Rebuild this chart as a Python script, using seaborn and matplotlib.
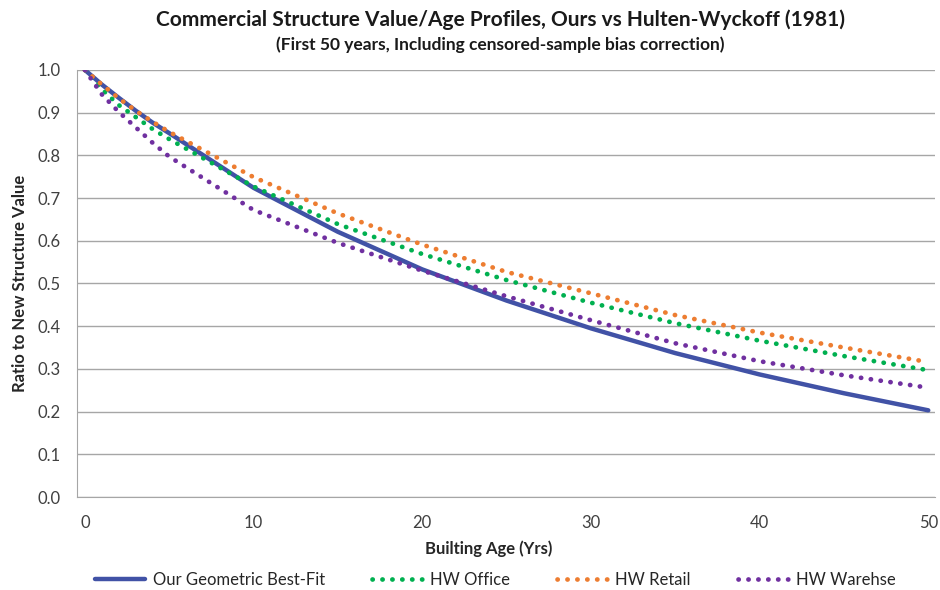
import numpy as np
import pandas as pd
import seaborn as sns
import matplotlib.pyplot as plt
from matplotlib.lines import Line2D

# values
ages = [0, 1, 2, 3, 4, 5, 10, 15, 20, 25, 30, 35, 40, 45, 50]
geometric = [1.0, 0.966, 0.935, 0.905, 0.877, 0.852, 0.724, 0.621, 0.533, 0.460, 0.395, 0.337, 0.287, 0.243, 0.203]
hw_office = [1.0, 0.955, 0.918, 0.890, 0.862, 0.838, 0.727, 0.639, 0.569, 0.508, 0.455, 0.407, 0.366, 0.330, 0.297]
hw_retail = [1.0, 0.966, 0.934, 0.905, 0.879, 0.855, 0.749, 0.664, 0.591, 0.527, 0.477, 0.426, 0.385, 0.350, 0.316]
hw_warehse = [1.0, 0.943, 0.902, 0.866, 0.830, 0.797, 0.672, 0.595, 0.530, 0.470, 0.414, 0.360, 0.318, 0.285, 0.256]

names = ["Our Geometric Best-Fit", "HW Office", "HW Retail", "HW Warehse"]
colors = ["#4152A6", "#00B050", "#ED7D31", "#7030A0"]
xticks = [0, 10, 20, 30, 40, 50]
yticks = [0.0, 0.1, 0.2, 0.3, 0.4, 0.5, 0.6, 0.7, 0.8, 0.9, 1.0]

df = pd.DataFrame({"age": ages * 4,
                   "value": geometric + hw_office + hw_retail + hw_warehse,
                   "series": np.repeat(names, len(ages))})

sns.set_style("white")
plt.rcParams['font.family'] = ['Lato', 'DejaVu Sans']

fig = plt.figure(figsize=(9.4, 5.9), dpi=100)
ax = fig.add_axes([0.0819, 0.1576, 0.9128, 0.7238])

# horizontal grid
for v in yticks:
    ax.axhline(v, color="#A6A6A6", lw=1.0, zorder=0)

dots = (0, (0.05, 2.05))
for i, name in enumerate(names):
    sub = df[df.series == name]
    if i == 0:
        sns.lineplot(data=sub, x="age", y="value", ax=ax, color=colors[i],
                     lw=3.2, zorder=3, legend=False)
    else:
        sns.lineplot(data=sub, x="age", y="value", ax=ax, color=colors[i],
                     lw=3.4, zorder=3, legend=False)
        ln = ax.lines[-1]
        ln.set_linestyle(dots)
        ln.set_dash_capstyle("round")

ax.set_xlim(-0.47, 50.4)
ax.set_ylim(0, 1.0)
ax.set_xticks(xticks)
ax.set_yticks(yticks)
ax.set_yticklabels([f"{v:.1f}" for v in yticks])
ax.tick_params(axis="both", labelsize=12, colors="#404040", length=5,
               width=1, direction="out")
ax.tick_params(axis="x", color="#A6A6A6", pad=8)
ax.tick_params(axis="y", color="#A6A6A6", pad=7)
for s in ["top", "right"]:
    ax.spines[s].set_visible(False)
ax.spines["left"].set_color("#A6A6A6")
ax.spines["bottom"].set_color("#A6A6A6")

ax.set_xlabel("Builting Age (Yrs)", fontsize=12, fontweight="bold")
ax.xaxis.set_label_coords(0.48, -0.102)
ax.set_ylabel("Ratio to New Structure Value", fontsize=12, fontweight="bold")
ax.yaxis.set_label_coords(-0.057, 0.5)

fig.text(0.532, 0.967, "Commercial Structure Value/Age Profiles, Ours vs Hulten-Wyckoff (1981)",
         ha="center", va="center", fontsize=15, fontweight="bold", color="#1a1a1a")
fig.text(0.532, 0.925, "(First 50 years, Including censored-sample bias correction)",
         ha="center", va="center", fontsize=12.5, fontweight="bold", color="#1a1a1a")

handles = [Line2D([0], [0], color=colors[0], lw=3.2)]
for c in colors[1:]:
    handles.append(Line2D([0], [0], color=c, lw=3.4, linestyle=dots,
                          dash_capstyle="round"))
fig.legend(handles, names, loc="lower center", bbox_to_anchor=(0.527, -0.022), ncol=4,
           frameon=False, fontsize=12, handlelength=3.0, columnspacing=2.8,
           handletextpad=0.5)

fig.savefig("out.png", dpi=100)
